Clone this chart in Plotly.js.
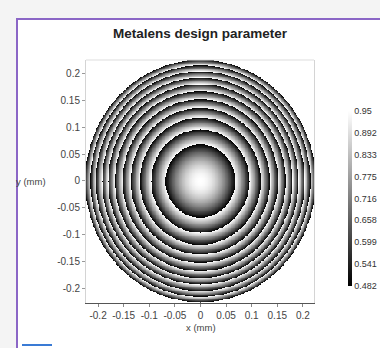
<!DOCTYPE html>
<html>
<head>
<meta charset="utf-8">
<script src="https://cdn.plot.ly/plotly-3.0.1.min.js"></script>
<style>
  html, body { margin: 0; padding: 0; width: 380px; height: 348px; overflow: hidden; background: #f4f4f4; }
  #frame { position: absolute; left: 16px; top: 18px; width: 400px; height: 360px; background: #ffffff;
           border-left: 2px solid #8b66c6; border-top: 2px solid #8b66c6; box-sizing: border-box; }
  #logo { position: absolute; left: 22px; top: 344px; width: 30px; height: 4px; border-top: 2px solid #3a7bd5; }
  #clip { position: absolute; left: 0; top: 0; width: 380px; height: 348px; overflow: hidden; }
  #chart { position: absolute; left: 0; top: 0; width: 410px; height: 348px; }
</style>
</head>
<body>
<div id="frame"></div>
<div id="logo"></div>
<div id="clip"><div id="chart"></div></div>
<script>
// ---- data ----
const chartTitle = 'Metalens design parameter';
const xLabel = 'x (mm)';
const yLabel = 'y (mm)';
// radii (mm) of the zone boundaries of the wrapped lens profile, measured on the image
const zoneEdges = [0.068, 0.096, 0.118, 0.136, 0.152, 0.167, 0.180, 0.192, 0.204, 0.215, 0.225];
const lensRadius = 0.225;          // outer rim of the lens (mm)
const valueMax = 0.95;             // value at the inner edge of each zone (white)
const valueMin = 0.482;            // value at the outer edge of each zone (black)
const colorbarTicks = [0.482, 0.541, 0.599, 0.658, 0.716, 0.775, 0.833, 0.892, 0.95];
const colorbarLabels = ['0.482', '0.541', '0.599', '0.658', '0.716', '0.775', '0.833', '0.892', '0.95'];
const xTicks = [-0.2, -0.15, -0.1, -0.05, 0, 0.05, 0.1, 0.15, 0.2];
const xTickLabels = ['-0.2', '-0.15', '-0.1', '-0.05', '0', '0.05', '0.1', '0.15', '0.2'];
const yTicks = [-0.2, -0.15, -0.1, -0.05, 0, 0.05, 0.1, 0.15, 0.2];
const yTickLabels = ['-0.2', '-0.15', '-0.1', '-0.05', '0', '0.05', '0.1', '0.15', '0.2'];
const gridCount = 301;             // sample points per side across the lens aperture

// ---- build the sampled field from the measured zones ----
const coords = [];
for (let i = 0; i < gridCount; i++) coords.push(-lensRadius + 2 * lensRadius * i / (gridCount - 1));
function valueAt(r) {
  if (r > lensRadius) return null;
  let inner = 0;
  for (let k = 0; k < zoneEdges.length; k++) {
    const outer = zoneEdges[k];
    if (r <= outer) {
      const t = (r * r - inner * inner) / (outer * outer - inner * inner);
      return valueMax - t * (valueMax - valueMin);
    }
    inner = outer;
  }
  return valueMin;
}
const z = coords.map(y => coords.map(x => valueAt(Math.sqrt(x * x + y * y))));

const trace = {
  type: 'heatmap',
  x: coords, y: coords, z: z,
  zmin: valueMin, zmax: valueMax,
  colorscale: [[0, '#000000'], [1, '#ffffff']],
  zsmooth: false,
  hoverongaps: false,
  colorbar: {
    thickness: 4, thicknessmode: 'pixels',
    len: 175, lenmode: 'pixels',
    x: (348 - 86) / 228, xanchor: 'left', xpad: 0,
    y: (303 - 198.5) / 243, yanchor: 'middle', ypad: 0,
    outlinewidth: 0,
    tickvals: colorbarTicks, ticktext: colorbarLabels,
    ticks: '', ticklen: 0,
    tickfont: { family: 'Liberation Sans, Arial, sans-serif', size: 9, color: '#333' }
  }
};

const tickFont = { family: 'Liberation Sans, Arial, sans-serif', size: 10, color: '#444' };
const layout = {
  width: 410, height: 348,
  margin: { l: 86, r: 96, t: 60, b: 45, pad: 0 },
  paper_bgcolor: 'rgba(0,0,0,0)',
  plot_bgcolor: '#ffffff',
  showlegend: false,
  title: {
    text: '<b>' + chartTitle + '</b>',
    x: 0.5, xref: 'paper', xanchor: 'center',
    y: 1 - 33 / 348, yref: 'container', yanchor: 'middle',
    font: { family: 'Liberation Sans, Arial, sans-serif', size: 13.5, color: '#222' }
  },
  xaxis: {
    range: [-0.2236, 0.2217],
    tickvals: xTicks, ticktext: xTickLabels,
    ticks: 'outside', ticklen: 3, tickcolor: '#888', tickwidth: 1,
    showline: true, linecolor: '#555', linewidth: 1,
    showgrid: false, zeroline: false,
    tickfont: tickFont
  },
  yaxis: {
    range: [-0.2270, 0.2251],
    tickvals: yTicks, ticktext: yTickLabels,
    ticks: 'outside', ticklen: 3, tickcolor: '#999', tickwidth: 1,
    showline: true, linecolor: '#d4d4d4', linewidth: 1, mirror: true,
    showgrid: false, zeroline: false,
    tickfont: tickFont
  },
  shapes: [
    { type: 'line', xref: 'paper', yref: 'paper', x0: 0, x1: 1, y0: 1, y1: 1,
      line: { color: '#dddddd', width: 1 } }
  ],
  annotations: [
    { text: xLabel, xref: 'paper', yref: 'paper', x: (200.5 - 86) / 228, y: (303 - 327) / 243,
      xanchor: 'center', yanchor: 'middle', showarrow: false,
      font: { family: 'Liberation Sans, Arial, sans-serif', size: 9.5, color: '#444' } },
    { text: yLabel, xref: 'paper', yref: 'paper', x: (31 - 86) / 228, y: (303 - 181) / 243,
      xanchor: 'center', yanchor: 'middle', showarrow: false,
      font: { family: 'Liberation Sans, Arial, sans-serif', size: 9.5, color: '#444' } }
  ]
};

Plotly.newPlot('chart', [trace], layout, { displayModeBar: false, staticPlot: true });
</script>
</body>
</html>
